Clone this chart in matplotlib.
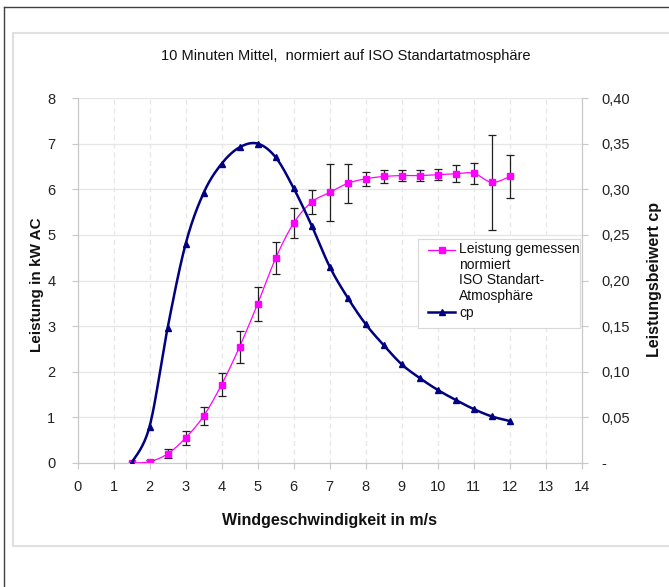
import numpy as np
import matplotlib
matplotlib.use("Agg")
import matplotlib.pyplot as plt
from matplotlib.lines import Line2D
from matplotlib.patches import Rectangle

plt.rcParams['font.family'] = ['Liberation Sans', 'DejaVu Sans']

# ---- data ----
wind = [1.5, 2.0, 2.5, 3.0, 3.5, 4.0, 4.5, 5.0, 5.5, 6.0, 6.5, 7.0, 7.5,
        8.0, 8.5, 9.0, 9.5, 10.0, 10.5, 11.0, 11.5, 12.0]
power = [0.0, 0.03, 0.2, 0.55, 1.03, 1.72, 2.55, 3.49, 4.49, 5.26, 5.72, 5.93, 6.13,
         6.23, 6.28, 6.30, 6.30, 6.32, 6.34, 6.35, 6.15, 6.28]
power_err = [0.0, 0.03, 0.1, 0.16, 0.2, 0.26, 0.35, 0.37, 0.35, 0.33, 0.27, 0.62, 0.43,
             0.15, 0.15, 0.12, 0.12, 0.12, 0.19, 0.23, 1.05, 0.47]
cp = [0.0, 0.040, 0.148, 0.240, 0.296, 0.328, 0.346, 0.350, 0.335, 0.301, 0.260, 0.215,
      0.181, 0.152, 0.129, 0.108, 0.093, 0.080, 0.069, 0.059, 0.051, 0.046]

x_ticks = list(range(0, 15))
y_ticks = list(range(0, 9))
cp_ticks = [0.0, 0.05, 0.10, 0.15, 0.20, 0.25, 0.30, 0.35, 0.40]
cp_labels = ['-', '0,05', '0,10', '0,15', '0,20', '0,25', '0,30', '0,35', '0,40']

title = "10 Minuten Mittel,  normiert auf ISO Standartatmosphäre"
xlabel = "Windgeschwindigkeit in m/s"
ylabel = "Leistung in kW AC"
y2label = "Leistungsbeiwert cp"
legend_power = "Leistung gemessen\nnormiert\nISO Standart-\nAtmosphäre"
legend_cp = "cp"


def smooth(x, y, n=20, t=1.0 / 6):
    """Excel-like smoothed path through points (cubic Bezier segments)."""
    x = np.asarray(x, float)
    y = np.asarray(y, float)
    px = np.concatenate([[x[0]], x, [x[-1]]])
    py = np.concatenate([[y[0]], y, [y[-1]]])
    xs, ys = [], []
    s = np.linspace(0, 1, n)
    for i in range(1, len(px) - 2):
        p0 = np.array([px[i], py[i]])
        p3 = np.array([px[i + 1], py[i + 1]])
        p1 = p0 + t * (np.array([px[i + 1], py[i + 1]]) - np.array([px[i - 1], py[i - 1]]))
        p2 = p3 - t * (np.array([px[i + 2], py[i + 2]]) - np.array([px[i], py[i]]))
        b = ((1 - s) ** 3)[:, None] * p0 + (3 * (1 - s) ** 2 * s)[:, None] * p1 + \
            (3 * (1 - s) * s ** 2)[:, None] * p2 + (s ** 3)[:, None] * p3
        xs.append(b[:, 0])
        ys.append(b[:, 1])
    return np.concatenate(xs), np.concatenate(ys)


W, H = 669, 587
fig = plt.figure(figsize=(W / 100, H / 100), dpi=100)
fig.patch.set_facecolor('white')

# outer frame lines and inner chart box
fig.add_artist(Line2D([4 / W, 4 / W], [0, 1 - 7 / H], transform=fig.transFigure,
                      color='#404040', lw=1.0))
fig.add_artist(Line2D([4 / W, 1], [1 - 7 / H, 1 - 7 / H], transform=fig.transFigure,
                      color='#404040', lw=1.0))
fig.add_artist(Rectangle((13 / W, 1 - 546 / H), 1.0, (546 - 33) / H, transform=fig.transFigure,
                         facecolor='white', edgecolor='#e0e0e0', lw=1.5))

left, right, top, bottom = 77.5, 582, 98, 463
ax = fig.add_axes([left / W, 1 - bottom / H, (right - left) / W, (bottom - top) / H])
ax2 = ax.twinx()
ax.set_zorder(1)
ax2.set_zorder(2)
ax.patch.set_alpha(0)
ax2.patch.set_alpha(0)

grid_c = '#e6e6e6'
axis_c = '#c8c8c8'

ax.set_xlim(0, 14)
ax.set_ylim(0, 8)
ax2.set_ylim(0, 0.4)
ax.set_xticks(x_ticks)
ax.set_yticks(y_ticks)
ax2.set_yticks(cp_ticks)
ax2.set_yticklabels(cp_labels)

for yv in y_ticks[1:]:
    ax.axhline(yv, color=grid_c, lw=0.9, zorder=0)
for xv in x_ticks[1:-1]:
    ax.axvline(xv, color=grid_c, lw=0.9, ls=(0, (4, 3)), zorder=0)

for a in (ax, ax2):
    for sp in ('top',):
        a.spines[sp].set_visible(False)
    for sp in ('left', 'right', 'bottom'):
        a.spines[sp].set_color(axis_c)
        a.spines[sp].set_linewidth(0.8)
    a.tick_params(colors=axis_c, labelcolor='#222222', labelsize=10.5, length=4, width=0.8)
ax.tick_params(axis='x', pad=8)
ax.tick_params(axis='y', pad=12)
ax2.tick_params(axis='y', pad=10)

# power series
sx, sy = smooth(wind, power)
ax.plot(sx, sy, color='#ff00ff', lw=0.9, zorder=3)
ax.errorbar(wind, power, yerr=power_err, fmt='none', ecolor='#202020', elinewidth=0.9,
            capsize=3, capthick=0.9, zorder=4)
ax.plot(wind, power, ls='none', marker='s', ms=4.5, color='#ff00ff', zorder=5)

# cp series
cx, cy = smooth(wind, cp)
ax2.plot(cx, cy, color='#000080', lw=1.8, zorder=3)
ax2.plot(wind, cp, ls='none', marker='^', ms=5, color='#000080', zorder=4)

# legend (manual, Excel-like)
tr = ax2.transAxes


def fy(py):
    return (bottom - py) / (bottom - top)


def fx(px):
    return (px - left) / (right - left)


ax2.add_patch(Rectangle((fx(418), fy(328)), fx(580) - fx(418), fy(239) - fy(328), transform=tr,
                        facecolor='white', edgecolor='#d8d8d8', lw=0.8, zorder=10))
ax2.add_line(Line2D([fx(428), fx(455)], [fy(250), fy(250)], transform=tr, color='#ff00ff',
                    lw=0.9, zorder=11))
ax2.add_line(Line2D([fx(441.5)], [fy(250)], transform=tr, color='#ff00ff', marker='s',
                    ms=4.5, ls='none', zorder=11))
ax2.add_line(Line2D([fx(428), fx(455)], [fy(312), fy(312)], transform=tr, color='#000080',
                    lw=1.8, zorder=11))
ax2.add_line(Line2D([fx(441.5)], [fy(312)], transform=tr, color='#000080', marker='^',
                    ms=5, ls='none', zorder=11))
ax2.text(fx(459), fy(242), legend_power, transform=tr, fontsize=10, va='top', ha='left',
         linespacing=1.15, color='#111111', zorder=12)
ax2.text(fx(459), fy(313), legend_cp, transform=tr, fontsize=10, va='center', ha='left',
         color='#111111', zorder=12)

# texts
fig.text(346 / W, 1 - 56 / H, title, ha='center', va='center', fontsize=10.5, color='#111111')
fig.text(330 / W, 1 - 520 / H, xlabel, ha='center', va='center', fontsize=11.5,
         fontweight='bold', color='#111111')
fig.text(37 / W, 1 - 285 / H, ylabel, ha='center', va='center', fontsize=11,
         fontweight='bold', rotation=90, color='#111111')
fig.text(655 / W, 1 - 280 / H, y2label, ha='center', va='center', fontsize=11.5,
         fontweight='bold', rotation=90, color='#111111')

fig.savefig('out.png', dpi=100, facecolor='white')
